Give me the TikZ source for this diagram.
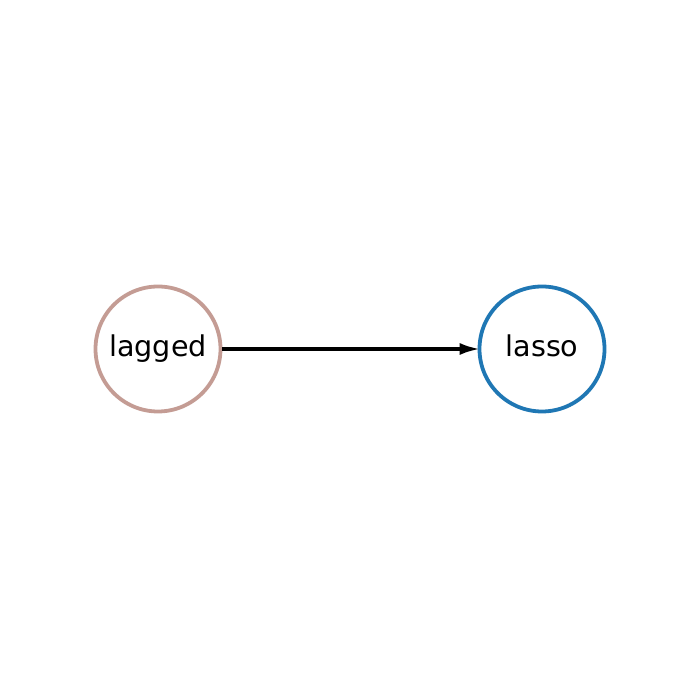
\documentclass[tikz,border=0pt]{standalone}
\usepackage{fontspec}
\setmainfont{DejaVu Sans}
\usetikzlibrary{arrows.meta}
\definecolor{nodebrown}{HTML}{C49C94}
\definecolor{nodeblue}{HTML}{1F77B4}
\begin{document}
\begin{tikzpicture}[x=1pt,y=1pt,
  gnode/.style={circle, draw, line width=3.8pt, fill=white, minimum size=125pt, inner sep=0pt,
    text height=22pt, text depth=6pt, font=\fontsize{28.6}{33}\selectfont},
  edge/.style={line width=3.8pt, shorten >=-3pt, -{Latex[length=21pt,width=12pt]}}]
\useasboundingbox (0,0) rectangle (700,700);
\node[gnode, draw=nodebrown] (lagged) at (158,351) {lagged};
\node[gnode, draw=nodeblue] (lasso) at (542,351) {lasso};
\draw[edge] (lagged) -- (lasso);
\end{tikzpicture}
\end{document}
